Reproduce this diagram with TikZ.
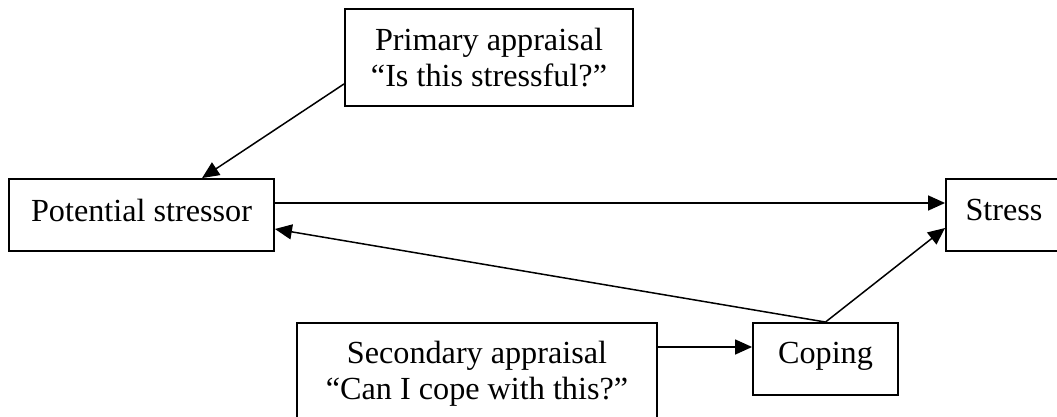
\documentclass[tikz,border=0pt]{standalone}
\usepackage{fontspec}
\setmainfont{Liberation Serif}
\usetikzlibrary{arrows.meta,calc}
\tikzset{
  box/.style={draw, line width=1.9pt, inner sep=0pt, font=\fontsize{32.2}{36}\selectfont, align=center},
  conn/.style={line width=1.5pt, -{Triangle[length=17pt,width=15pt]}},
}
\begin{document}
\begin{tikzpicture}[x=1pt,y=-1pt]
\useasboundingbox (0,0) rectangle (1057,417);
\clip (0,0) rectangle (1057,417);
\node[box, minimum width=288pt, minimum height=97pt] (prim) at (489,57.5) {Primary appraisal\\``Is this stressful?''};
\node[box, minimum width=265pt, minimum height=72pt, text height=20pt, text depth=8pt] (pot) at (141.5,215) {Potential stressor};
\node[box, minimum width=116pt, minimum height=72pt, text height=20pt, text depth=10pt] (stress) at (1004,215) {Stress};
\node[box, minimum width=360pt, minimum height=101pt] (sec) at (477,373.5) {Secondary appraisal\\``Can I cope with this?''};
\node[box, minimum width=145pt, minimum height=72pt, text height=20pt, text depth=12pt] (cop) at (825.5,359) {Coping};
\coordinate (p1) at ($(prim.south west)+(0,-23)$);
\coordinate (p2) at ($(pot.north west)+(194,0)$);
\draw[conn] (p1) -- (p2);
\coordinate (s1) at ($(pot.east)+(0,-12)$);
\draw[conn] (s1) -- (s1 -| stress.west);
\coordinate (c1) at ($(pot.east)+(0,14)$);
\draw[conn] (cop.north) -- (c1);
\coordinate (c2) at ($(stress.west)+(0,13)$);
\draw[conn] (cop.north) -- (c2);
\coordinate (k1) at ($(cop.west)+(0,-12)$);
\draw[conn] (k1 -| sec.east) -- (k1);
\end{tikzpicture}
\end{document}
